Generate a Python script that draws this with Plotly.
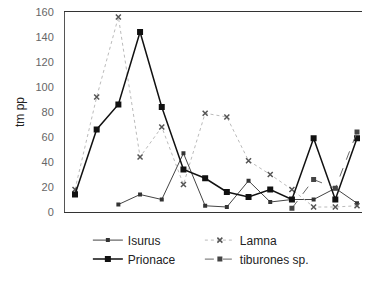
import plotly.graph_objects as go

categories = list(range(1, 15))
isurus = [None, None, 6, 14, 10, 47, 5, 4, 25, 8, 10, 10, 19, 7]
lamna = [18, 92, 156, 44, 68, 22, 79, 76, 41, 30, 18, 4, 4, 5]
prionace = [14, 66, 86, 144, 84, 34, 27, 16, 12, 18, 10, 59, 10, 59]
tiburones = [None, None, None, None, None, None, None, None, None, None, 3, 26, 19, 64]
y_ticks = [0, 20, 40, 60, 80, 100, 120, 140, 160]

fig = go.Figure()
fig.add_trace(go.Scatter(x=categories, y=isurus, name="Isurus", mode="lines+markers",
                         line=dict(color="#444444", width=1), cliponaxis=False,
                         marker=dict(symbol="square", size=4, color="#333333")))
fig.add_trace(go.Scatter(x=categories, y=lamna, name="Lamna", mode="lines+markers",
                         line=dict(color="#bbbbbb", width=1, dash="dot"), cliponaxis=False,
                         marker=dict(symbol="x-thin-open", size=5, color="#555555",
                                     line=dict(color="#555555", width=1.5))))
fig.add_trace(go.Scatter(x=categories, y=prionace, name="Prionace", mode="lines+markers",
                         line=dict(color="#111111", width=1.5), cliponaxis=False,
                         marker=dict(symbol="square", size=6, color="#111111")))
fig.add_trace(go.Scatter(x=categories, y=tiburones, name="tiburones sp.", mode="lines+markers",
                         line=dict(color="#666666", width=1, dash="dash"), cliponaxis=False,
                         marker=dict(symbol="square", size=5, color="#444444")))

fig.update_layout(
    width=365, height=286,
    margin=dict(l=65, r=3, t=12, b=74),
    paper_bgcolor="white", plot_bgcolor="white",
    font=dict(family="Liberation Sans, Arial, sans-serif", color="#222222"),
    showlegend=True,
    legend=dict(orientation="h", x=0.077, y=-0.068, xanchor="left", yanchor="top",
                font=dict(size=12, color="#222222"), entrywidth=67,
                itemwidth=30, tracegroupgap=0, bgcolor="rgba(0,0,0,0)"),
)
fig.update_xaxes(range=[0.54, 14.23], showticklabels=False, ticks="", showgrid=False,
                 zeroline=False, showline=True, mirror=True, linecolor="#333333", linewidth=1)
fig.update_yaxes(range=[0, 160], tickvals=y_ticks, showgrid=False, zeroline=False,
                 showline=True, linecolor="#555555", linewidth=1, ticks="",
                 ticklabelstandoff=8,
                 tickfont=dict(size=11, color="#666666"),
                 title=dict(text="tm pp", font=dict(size=12, color="#222222"), standoff=8))

fig.write_html("out.html", config={"displayModeBar": False},
               post_script="document.body.style.margin='0';")
